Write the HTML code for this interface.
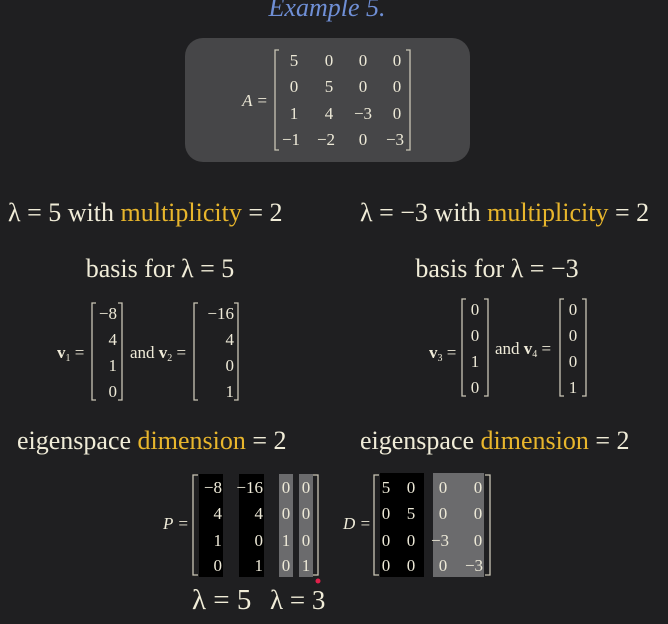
<!DOCTYPE html>
<html><head><meta charset="utf-8"><style>
html,body{margin:0;padding:0;background:#1f1f21;}
svg, svg text{font-family:"Liberation Serif","Times New Roman",serif;}
</style></head><body>
<svg width="668" height="619" viewBox="0 0 668 619" font-family="Liberation Serif, serif">
<rect width="668" height="619" fill="#1f1f21"/>
<text x="327" y="16" font-size="26" font-style="italic" fill="#6f8fd6" text-anchor="middle">Example 5.</text>
<rect x="185" y="38" width="285" height="124" rx="18" fill="#464648"/>
<g fill="#eeead8" font-size="17" text-anchor="middle">
<text x="255" y="106" font-style="italic">A =</text>
<path d="M279 50h-4v100h4M406 50h4v100h-4" stroke="#c9c5b5" stroke-width="1.3" fill="none"/>
<text x="294" y="66">5</text><text x="329" y="66">0</text><text x="363" y="66">0</text><text x="397" y="66">0</text>
<text x="294" y="92">0</text><text x="329" y="92">5</text><text x="363" y="92">0</text><text x="397" y="92">0</text>
<text x="294" y="119">1</text><text x="329" y="119">4</text><text x="363" y="119">−3</text><text x="397" y="119">0</text>
<text x="291" y="145">−1</text><text x="326" y="145">−2</text><text x="363" y="145">0</text><text x="395" y="145">−3</text>
</g>
<g font-size="26" fill="#f0ecd8">
<text x="8" y="221">λ = 5 with <tspan fill="#e8b62c">multiplicity</tspan> = 2</text>
<text x="360" y="221">λ = −3 with <tspan fill="#e8b62c">multiplicity</tspan> = 2</text>
<text x="160" y="277" text-anchor="middle">basis for λ = 5</text>
<text x="497" y="277" text-anchor="middle">basis for λ = −3</text>
<text x="17" y="449">eigenspace <tspan fill="#e8b62c">dimension</tspan> = 2</text>
<text x="360" y="449">eigenspace <tspan fill="#e8b62c">dimension</tspan> = 2</text>
</g>
<g fill="#eeead8" font-size="17">
<text x="57" y="358"><tspan font-weight="bold">v</tspan><tspan font-size="10" dy="3">1</tspan><tspan dy="-3"> =</tspan></text>
<path d="M96 303h-4v97h4M118 303h4v97h-4M198 303h-4v97h4M234 303h4v97h-4" stroke="#c9c5b5" stroke-width="1.3" fill="none"/>
<g text-anchor="end"><text x="117" y="319">−8</text><text x="117" y="345">4</text><text x="117" y="371">1</text><text x="117" y="397">0</text>
<text x="234" y="319">−16</text><text x="234" y="345">4</text><text x="234" y="371">0</text><text x="234" y="397">1</text></g>
<text x="130" y="358">and <tspan font-weight="bold">v</tspan><tspan font-size="10" dy="3">2</tspan><tspan dy="-3"> =</tspan></text>
</g>
<g fill="#eeead8" font-size="17">
<text x="429" y="358"><tspan font-weight="bold">v</tspan><tspan font-size="10" dy="3">3</tspan><tspan dy="-3"> =</tspan></text>
<path d="M466 299h-4v97h4M484 299h4v97h-4M564 299h-4v97h4M582 299h4v97h-4" stroke="#c9c5b5" stroke-width="1.3" fill="none"/>
<g text-anchor="middle"><text x="475" y="315">0</text><text x="475" y="341">0</text><text x="475" y="367">1</text><text x="475" y="393">0</text>
<text x="573" y="315">0</text><text x="573" y="341">0</text><text x="573" y="367">0</text><text x="573" y="393">1</text></g>
<text x="495" y="354">and <tspan font-weight="bold">v</tspan><tspan font-size="10" dy="3">4</tspan><tspan dy="-3"> =</tspan></text>
</g>
<g fill="#eeead8" font-size="17">
<text x="163" y="529" font-style="italic">P =</text>
<path d="M198 475h-5v100h5M313 475h5v100h-5" stroke="#c9c5b5" stroke-width="1.3" fill="none"/>
<rect x="199" y="474" width="24" height="103" fill="#000"/>
<rect x="239" y="474" width="25" height="103" fill="#000"/>
<rect x="279" y="474" width="14" height="103" fill="#6b6b6d"/>
<rect x="299" y="474" width="14" height="103" fill="#6b6b6d"/>
<g text-anchor="end"><text x="222" y="493">−8</text><text x="222" y="519">4</text><text x="222" y="546">1</text><text x="222" y="571">0</text>
<text x="263" y="493">−16</text><text x="263" y="519">4</text><text x="263" y="546">0</text><text x="263" y="571">1</text></g>
<g text-anchor="middle"><text x="286" y="493">0</text><text x="286" y="519">0</text><text x="286" y="546">1</text><text x="286" y="571">0</text>
<text x="306" y="493">0</text><text x="306" y="519">0</text><text x="306" y="546">0</text><text x="306" y="571">1</text></g>
</g>
<circle cx="318" cy="581" r="2.5" fill="#e0204a"/>
<g fill="#eeead8" font-size="17">
<text x="343" y="529" font-style="italic">D =</text>
<path d="M379 475h-5v100h5M485 475h5v100h-5" stroke="#c9c5b5" stroke-width="1.3" fill="none"/>
<rect x="380" y="473" width="44" height="104" fill="#000"/>
<rect x="433" y="473" width="51" height="104" fill="#6b6b6d"/>
<g text-anchor="middle"><text x="386" y="493">5</text><text x="411" y="493">0</text><text x="443" y="493">0</text><text x="478" y="493">0</text>
<text x="386" y="519">0</text><text x="411" y="519">5</text><text x="443" y="519">0</text><text x="478" y="519">0</text>
<text x="386" y="546">0</text><text x="411" y="546">0</text><text x="440" y="546">−3</text><text x="478" y="546">0</text>
<text x="386" y="571">0</text><text x="411" y="571">0</text><text x="443" y="571">0</text><text x="474" y="571">−3</text></g>
</g>
<text x="192" y="609" font-size="29" fill="#f0ecd8">λ = 5</text>
<text x="270" y="609" font-size="27" fill="#f0ecd8">λ = 3</text>
</svg>
</body></html>
